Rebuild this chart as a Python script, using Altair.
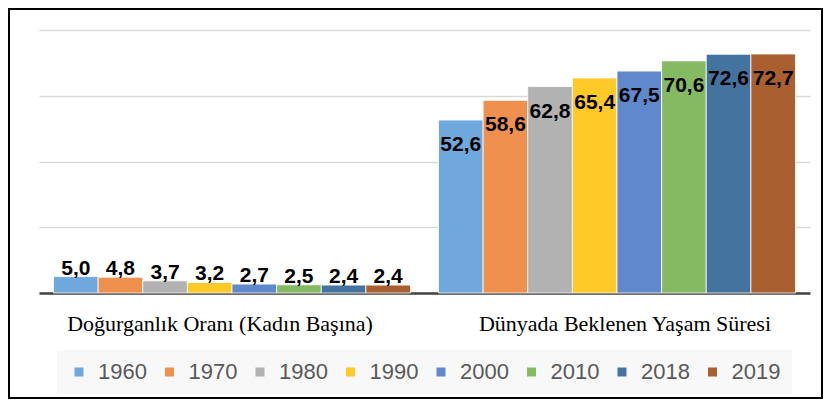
import altair as alt
import pandas as pd

categories = ["Doğurganlık Oranı (Kadın Başına)", "Dünyada Beklenen Yaşam Süresi"]
years = ["1960", "1970", "1980", "1990", "2000", "2010", "2018", "2019"]
fertility = [5.0, 4.8, 3.7, 3.2, 2.7, 2.5, 2.4, 2.4]
life_expectancy = [52.6, 58.6, 62.8, 65.4, 67.5, 70.6, 72.6, 72.7]
colors = ["#6FA8DC", "#F0904F", "#B2B2B2", "#FFC928", "#6088CD", "#85BA62", "#44739F", "#A95F2F"]

rows = []
for cat, vals in zip(categories, [fertility, life_expectancy]):
    for y, v in zip(years, vals):
        rows.append({"cat": cat, "year": y, "value": v,
                     "label": f"{v:.1f}".replace(".", ",")})
df = pd.DataFrame(rows)

x_enc = alt.X("cat:N", sort=categories,
              scale=alt.Scale(paddingInner=0.0727, paddingOuter=0.0377),
              axis=alt.Axis(title=None, labelAngle=0, ticks=False,
                            domainColor="#404040", domainWidth=2.5,
                            labelFont="Liberation Serif", labelFontSize=22,
                            labelColor="#000000", labelPadding=20, labelLimit=0,
                            labelOffset={"condition": {"test": f"datum.value == '{categories[0]}'", "value": -12},
                                         "value": 8}))
xo_enc = alt.XOffset("year:N", sort=years, scale=alt.Scale(paddingInner=0, paddingOuter=0))
y_enc = alt.Y("value:Q", scale=alt.Scale(domain=[0, 80], nice=False),
              axis=alt.Axis(title=None, labels=False, ticks=False, domain=False,
                            values=[20, 40, 60, 80], gridColor="#d9d9d9", gridWidth=1.5))

base = alt.Chart(df)

bars = base.mark_bar(stroke="white", strokeWidth=1, strokeOpacity=0.8).encode(
    x=x_enc, xOffset=xo_enc, y=y_enc,
    color=alt.Color("year:N", sort=years,
                    scale=alt.Scale(domain=years, range=colors),
                    legend=alt.Legend(title=None, orient="none", direction="horizontal",
                                      legendX=18, legendY=320, columns=8,
                                      symbolType="square", symbolSize=81, symbolStrokeWidth=0,
                                      labelFont="Liberation Sans", labelFontSize=22,
                                      labelColor="#595959", labelOffset=8, columnPadding=11.5,
                                      fillColor="#f8f8f8", padding=11)),
)

labels_small = base.transform_filter(alt.datum.cat == categories[0]).mark_text(
    font="Liberation Sans", fontWeight="bold", fontSize=21, color="black",
    baseline="alphabetic", dy=-2,
).encode(x=alt.X("cat:N", sort=categories), xOffset=alt.XOffset("year:N", sort=years),
         y="value:Q", text="label:N")

labels_big = base.transform_filter(alt.datum.cat == categories[1]).mark_text(
    font="Liberation Sans", fontWeight="bold", fontSize=21, color="black",
    baseline="middle", dy=25,
).encode(x=alt.X("cat:N", sort=categories), xOffset=alt.XOffset("year:N", sort=years),
         y="value:Q", text="label:N")

frame = alt.Chart(alt.Data(values=[{}])).mark_rect(
    fill=None, stroke="black", strokeWidth=2
).encode(x=alt.value(-30), x2=alt.value(783), y=alt.value(-21), y2=alt.value(368))

chart = alt.layer(bars, labels_small, labels_big, frame).properties(
    width=771, height=263, padding=0
).configure_view(stroke=None)

chart.save("out.html", embed_options={"renderer": "svg", "actions": False})
